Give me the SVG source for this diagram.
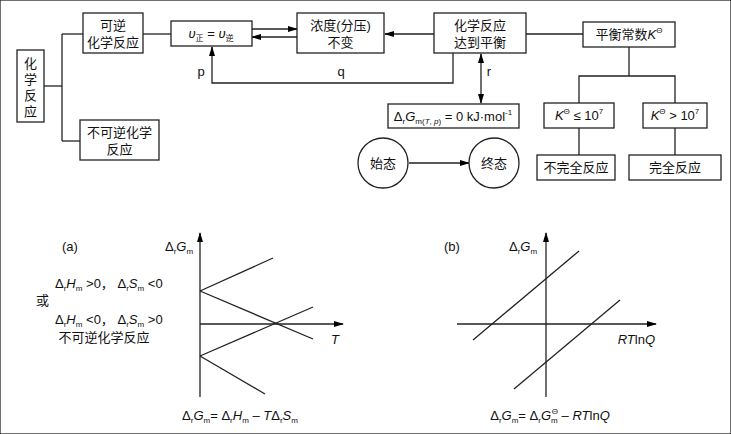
<svg xmlns="http://www.w3.org/2000/svg" width="731" height="434" viewBox="0 0 731 434">
<defs>
<marker id="ah" markerWidth="10" markerHeight="8" refX="9" refY="4" orient="auto-start-reverse" markerUnits="userSpaceOnUse"><path d="M0,1 L10,4 L0,7 Z" fill="#000"/></marker>
<style>
rect,circle{fill:#fff;stroke:#222;stroke-width:1.3}
line,polyline{stroke:#222;stroke-width:1.3;fill:none}
text{font-family:"Liberation Sans","Noto Sans CJK SC",sans-serif;font-size:13px;fill:#111}
.c{text-anchor:middle}
.i{font-style:italic}
.s{font-size:8px}
</style>
</defs>
<rect width="731" height="434" fill="#fff" stroke="none"/>
<g id="connectors">
<line x1="44" y1="86" x2="62" y2="86"/>
<line x1="62" y1="34" x2="62" y2="141"/>
<line x1="62" y1="34" x2="83" y2="34"/>
<line x1="62" y1="141" x2="80" y2="141"/>
<line x1="143" y1="34" x2="171" y2="34"/>
<line x1="252" y1="29" x2="297" y2="29" marker-end="url(#ah)"/>
<line x1="297" y1="37" x2="252" y2="37" marker-end="url(#ah)"/>
<line x1="434" y1="34" x2="385" y2="34" marker-end="url(#ah)"/>
<line x1="526" y1="34" x2="583" y2="34"/>
<polyline points="453,53 453,83 212,83 212,47" marker-end="url(#ah)"/>
<line x1="481" y1="54" x2="481" y2="103" marker-start="url(#ah)" marker-end="url(#ah)"/>
<line x1="409" y1="163" x2="469" y2="163" marker-end="url(#ah)"/>
<line x1="629" y1="47" x2="629" y2="76"/>
<polyline points="579,103 579,76 675,76 675,103"/>
<line x1="579" y1="128" x2="579" y2="155"/>
<line x1="675" y1="128" x2="675" y2="155"/>
<text x="201" y="76" class="c">p</text>
<text x="341" y="76" class="c">q</text>
<text x="489" y="76" class="c">r</text>
</g>
<g id="n_hxfy"><rect x="17" y="50" width="27" height="72"/>
<text x="30.5" y="68" class="c">化</text><text x="30.5" y="84" class="c">学</text><text x="30.5" y="100" class="c">反</text><text x="30.5" y="116" class="c">应</text></g>
<g id="n_kn"><rect x="83" y="13" width="60" height="40"/><text x="113" y="30" class="c">可逆</text><text x="113" y="47" class="c">化学反应</text></g>
<g id="n_bkn"><rect x="80" y="120" width="79" height="40"/><text x="119.5" y="137" class="c">不可逆化学</text><text x="119.5" y="154" class="c">反应</text></g>
<g id="n_v"><rect x="171" y="21" width="81" height="25"/>
<text x="211" y="38" class="c"><tspan class="i">υ</tspan><tspan class="s" dy="3">正</tspan><tspan dy="-3"> = </tspan><tspan class="i">υ</tspan><tspan class="s" dy="3">逆</tspan></text></g>
<g id="n_nd"><rect x="297" y="13" width="87" height="40"/><text x="340.5" y="30" class="c">浓度(分压)</text><text x="340.5" y="47" class="c">不变</text></g>
<g id="n_ph"><rect x="434" y="13" width="92" height="40"/><text x="480" y="30" class="c">化学反应</text><text x="480" y="47" class="c">达到平衡</text></g>
<g id="n_k"><rect x="583" y="22" width="92" height="25"/><text x="629" y="39" class="c">平衡常数<tspan class="i">K</tspan><tspan class="s" dy="-6">Θ</tspan></text></g>
<g id="n_dg"><rect x="388" y="104" width="131" height="24"/>
<text x="453" y="121" class="c">Δ<tspan class="s" dy="3">r</tspan><tspan class="i" dy="-3">G</tspan><tspan class="s" dy="3">m(<tspan class="i">T</tspan>, <tspan class="i">p</tspan>)</tspan><tspan dy="-3"> = 0 kJ·mol</tspan><tspan class="s" dy="-6">-1</tspan></text></g>
<g id="n_sh"><circle cx="383" cy="163" r="25"/><text x="383" y="168" class="c">始态</text></g>
<g id="n_zh"><circle cx="494" cy="163" r="25"/><text x="494" y="168" class="c">终态</text></g>
<g id="n_kl"><rect x="544" y="103" width="70" height="25"/><text x="579" y="120" class="c"><tspan class="i">K</tspan><tspan class="s" dy="-6">Θ</tspan><tspan dy="6"> ≤ 10</tspan><tspan class="s" dy="-6">7</tspan></text></g>
<g id="n_kg"><rect x="643" y="103" width="64" height="25"/><text x="675" y="120" class="c"><tspan class="i">K</tspan><tspan class="s" dy="-6">Θ</tspan><tspan dy="6"> &gt; 10</tspan><tspan class="s" dy="-6">7</tspan></text></g>
<g id="n_bwq"><rect x="537" y="155" width="78" height="25"/><text x="576" y="172" class="c">不完全反应</text></g>
<g id="n_wq"><rect x="629" y="155" width="92" height="25"/><text x="675" y="172" class="c">完全反应</text></g>
<g id="chart_a">
<line x1="200" y1="397" x2="200" y2="233" marker-end="url(#ah)"/>
<line x1="200" y1="324" x2="343" y2="324" marker-end="url(#ah)"/>
<line x1="200" y1="291" x2="273" y2="258"/>
<line x1="200" y1="291" x2="313" y2="339"/>
<line x1="200" y1="356" x2="313" y2="307"/>
<line x1="200" y1="356" x2="265" y2="394"/>
<text x="62" y="251">(a)</text>
<text x="165" y="251">Δ<tspan class="s" dy="3">r</tspan><tspan class="i" dy="-3">G</tspan><tspan class="s" dy="3">m</tspan></text>
<text x="331" y="344" class="i">T</text>
<text x="55" y="288">Δ<tspan class="s" dy="3">r</tspan><tspan class="i" dy="-3">H</tspan><tspan class="s" dy="3">m</tspan><tspan dy="-3"> &gt;0，  Δ</tspan><tspan class="s" dy="3">r</tspan><tspan class="i" dy="-3">S</tspan><tspan class="s" dy="3">m</tspan><tspan dy="-3"> &lt;0</tspan></text>
<text x="36" y="305">或</text>
<text x="55" y="324">Δ<tspan class="s" dy="3">r</tspan><tspan class="i" dy="-3">H</tspan><tspan class="s" dy="3">m</tspan><tspan dy="-3"> &lt;0，  Δ</tspan><tspan class="s" dy="3">r</tspan><tspan class="i" dy="-3">S</tspan><tspan class="s" dy="3">m</tspan><tspan dy="-3"> &gt;0</tspan></text>
<text x="104" y="342" class="c">不可逆化学反应</text>
<text x="240" y="420" class="c">Δ<tspan class="s" dy="3">r</tspan><tspan class="i" dy="-3">G</tspan><tspan class="s" dy="3">m</tspan><tspan dy="-3">= Δ</tspan><tspan class="s" dy="3">r</tspan><tspan class="i" dy="-3">H</tspan><tspan class="s" dy="3">m</tspan><tspan dy="-3"> – </tspan><tspan class="i">T</tspan>Δ<tspan class="s" dy="3">r</tspan><tspan class="i" dy="-3">S</tspan><tspan class="s" dy="3">m</tspan></text>
</g>
<g id="chart_b">
<line x1="546" y1="397" x2="546" y2="233" marker-end="url(#ah)"/>
<line x1="457" y1="324" x2="656" y2="324" marker-end="url(#ah)"/>
<line x1="473" y1="340" x2="579" y2="251"/>
<line x1="514" y1="389" x2="620" y2="300"/>
<text x="444" y="251">(b)</text>
<text x="509" y="251">Δ<tspan class="s" dy="3">r</tspan><tspan class="i" dy="-3">G</tspan><tspan class="s" dy="3">m</tspan></text>
<text x="655" y="344" style="text-anchor:end"><tspan class="i">RT</tspan>ln<tspan class="i">Q</tspan></text>
<text x="550" y="420" class="c">Δ<tspan class="s" dy="3">r</tspan><tspan class="i" dy="-3">G</tspan><tspan class="s" dy="3">m</tspan><tspan dy="-3">= Δ</tspan><tspan class="s" dy="3">r</tspan><tspan class="i" dy="-3">G</tspan><tspan class="s" dy="3">m</tspan><tspan class="s" dx="-6" dy="-9">Θ</tspan><tspan dy="6"> – </tspan><tspan class="i">RT</tspan>ln<tspan class="i">Q</tspan></text>
</g>
</svg>
